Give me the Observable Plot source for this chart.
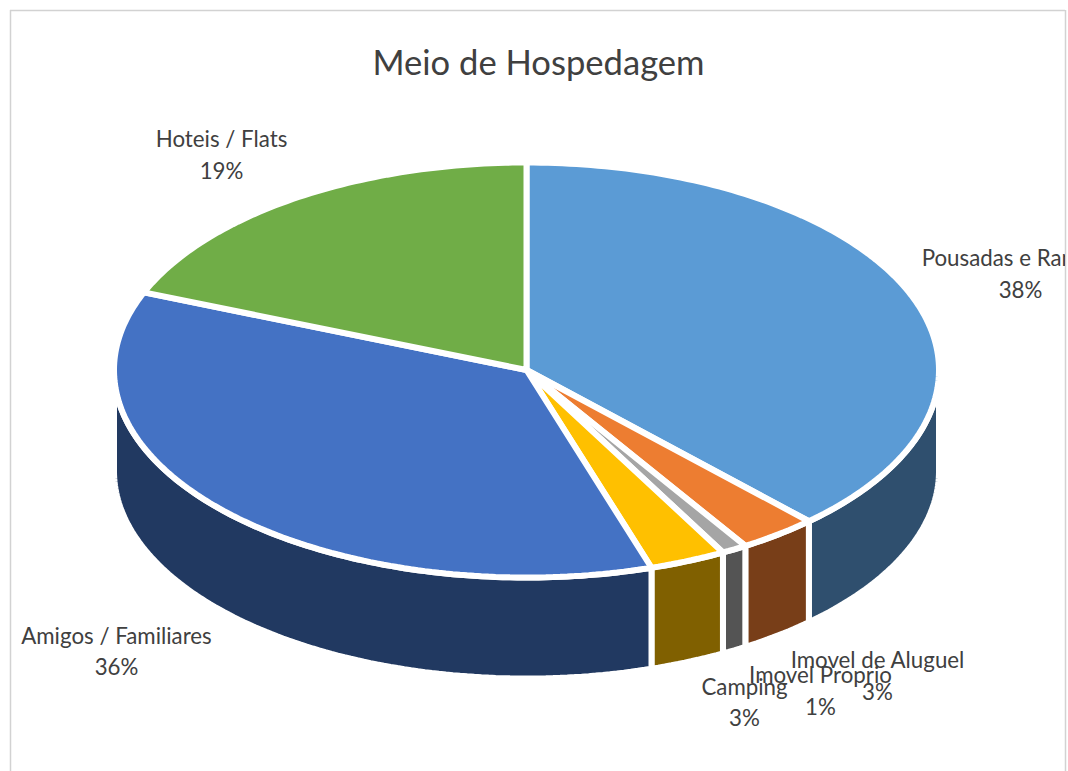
<!DOCTYPE html>
<html lang="pt">
<head>
<meta charset="utf-8">
<style>
html,body{margin:0;padding:0;background:#fff;overflow:hidden}
svg{display:block}
</style>
<script src="https://cdn.jsdelivr.net/npm/d3@7"></script>
<script src="https://cdn.jsdelivr.net/npm/@observablehq/plot@0.6"></script>
</head>
<body>
<div id="chart"></div>
<script>
const title = "Meio de Hospedagem";
const categories = ["Pousadas e Ranchos","Imovel de Aluguel","Imovel Proprio","Camping","Amigos / Familiares","Hoteis / Flats"];
const values = [38, 3.1, 1, 3, 36, 18.9];
const percentLabels = ["38%","3%","1%","3%","36%","19%"];
const faceColors = ["#5B9BD5","#ED7D31","#A5A5A5","#FFC000","#4472C4","#70AD47"];
const wallColors = ["#2F4F6E","#783E18","#545454","#806000","#213961","#3A5A26"];
const labelCenterX = [1020, 877, 820, 744, 116, 221];
const labelNameY = [258, 660, 675, 687, 636, 139];
const labelPercentY = [290, 692, 707, 718, 667, 171];

// Pie geometry
const cx = 526, cy = 369.5, rx = 412.5, ry = 207.5, depth = 101;
const total = d3.sum(values);
const ends = d3.cumsum(values).map(v => v / total * 360);
const starts = [0, ...ends.slice(0, -1)];
const rad = a => a * Math.PI / 180;
const pt = (a, dy = 0) => ({x: cx + rx * Math.sin(rad(a)), y: cy - ry * Math.cos(rad(a)) + dy});
const arc = (a0, a1, dy = 0) => {
  const n = Math.max(2, Math.ceil(a1 - a0));
  return d3.range(n + 1).map(i => pt(a0 + (a1 - a0) * i / n, dy));
};

const wallRows = categories.flatMap((c, i) => {
  const a0 = Math.max(starts[i], 90), a1 = Math.min(ends[i], 270);
  if (a1 <= a0) return [];
  const poly = [...arc(a0, a1), ...arc(a0, a1, depth).reverse()];
  poly.push(poly[0]);
  return poly.map(p => ({...p, key: c + " (lateral)"}));
});
const faceRows = categories.flatMap((c, i) => {
  const poly = [{x: cx, y: cy}, ...arc(starts[i], ends[i]), {x: cx, y: cy}];
  return poly.map(p => ({...p, key: c}));
});

const labelRows = categories.flatMap((c, i) => [
  {x: labelCenterX[i], y: labelNameY[i], text: c},
  {x: labelCenterX[i], y: labelPercentY[i], text: percentLabels[i]}
]);

const textFont = "Lato, 'Open Sans', sans-serif";
const plot = Plot.plot({
  width: 1068, height: 771,
  marginLeft: 10, marginRight: 3, marginTop: 10, marginBottom: 0,
  style: {background: "#fff", overflow: "hidden"},
  x: {domain: [10, 1065], axis: null},
  y: {domain: [771, 10], axis: null},
  color: {
    domain: [...categories, ...categories.map(c => c + " (lateral)")],
    range: [...faceColors, ...wallColors]
  },
  marks: [
    Plot.ruleX([10, 1065], {stroke: "#d2d2d2", strokeWidth: 1.5}),
    Plot.ruleY([10], {stroke: "#d2d2d2", strokeWidth: 1.5}),
    Plot.line(wallRows, {x: "x", y: "y", z: "key", fill: "key", stroke: "#fff", strokeWidth: 6, strokeLinejoin: "miter"}),
    Plot.line(faceRows, {x: "x", y: "y", z: "key", fill: "key", stroke: "#fff", strokeWidth: 6, strokeLinejoin: "miter"}),
    Plot.text(labelRows, {x: "x", y: "y", text: "text", fill: "#404040", fontSize: 22.3, fontFamily: textFont, clip: "frame"}),
    Plot.text([title], {x: () => 538, y: () => 63, text: d => d, fill: "#404040", fontSize: 34.6, fontFamily: textFont})
  ]
});
document.getElementById("chart").append(plot);
</script>
</body>
</html>
